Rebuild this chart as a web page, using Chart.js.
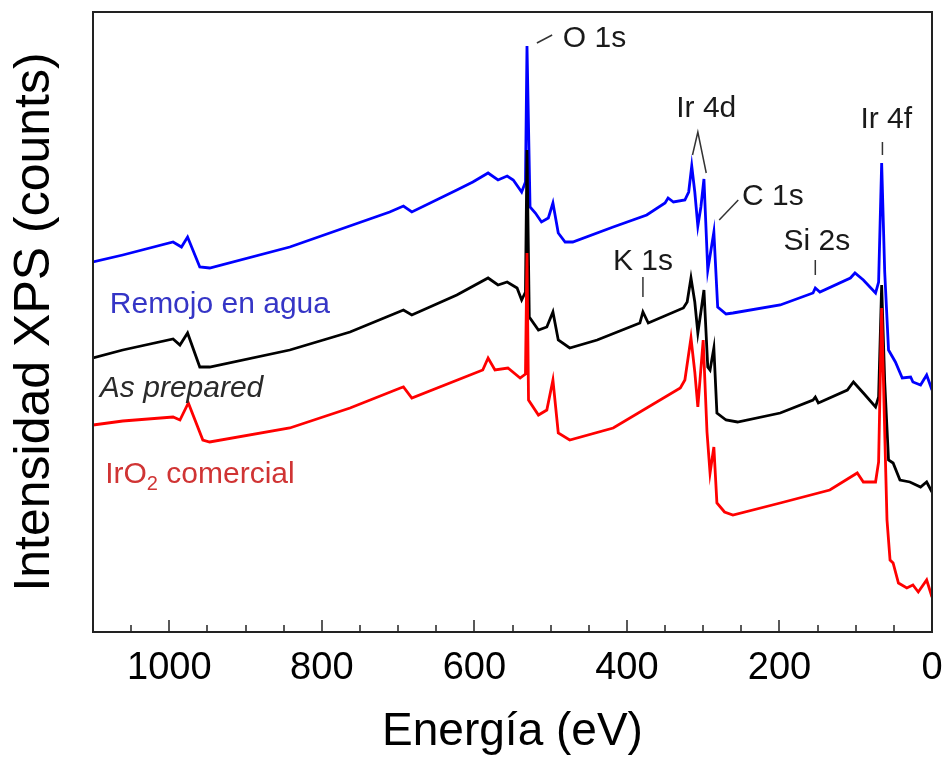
<!DOCTYPE html>
<html>
<head>
<meta charset="utf-8">
<script src="https://cdn.jsdelivr.net/npm/chart.js@4/dist/chart.umd.min.js"></script>
<style>
  body { margin: 0; background: #fff; }
  canvas { display: block; }
</style>
</head>
<body>
<canvas id="xpsChart" width="945" height="760"></canvas>
<script>
// binding energy (eV) / intensity (arb. counts) per sample
const aguaEnergy = [1100, 1061, 995, 984, 976, 960, 947, 842, 711, 693, 682, 623, 602, 582, 569, 557, 549, 538, 533, 531, 527, 520, 512, 503, 497, 490, 481, 471, 418, 374, 350, 346, 339, 324, 319, 315, 311, 307, 303, 299, 294, 286, 281, 270, 261, 199, 156, 153, 147, 107, 101, 90, 74, 70, 66, 62, 57, 48, 39, 28, 25, 15, 7, 0];
const aguaCounts = [370, 377, 390, 385, 395, 365, 364, 385, 420, 426, 420, 442, 450, 459, 452, 456, 452, 440, 450, 586, 425, 419, 410, 414, 429, 399, 390, 390, 405, 417, 429, 434, 430, 432, 440, 466, 440, 406, 425, 453, 362, 400, 325, 318, 319, 327, 339, 344, 340, 354, 359, 352, 339, 350, 469, 360, 282, 270, 254, 255, 250, 247, 257, 242];

const preparedEnergy = [1100, 1061, 995, 986, 976, 960, 947, 842, 763, 693, 682, 623, 582, 569, 557, 544, 538, 533, 531, 528, 516, 505, 497, 490, 475, 439, 383, 379, 372, 326, 321, 316, 311, 307, 303, 299, 294, 291, 286, 282, 270, 255, 199, 156, 153, 149, 111, 103, 90, 74, 70, 66, 62, 57, 51, 42, 29, 15, 7, 0];
const preparedCounts = [274, 282, 293, 287, 299, 265, 265, 282, 300, 322, 317, 337, 354, 347, 350, 344, 332, 340, 482, 315, 302, 305, 320, 292, 284, 292, 309, 320, 309, 324, 330, 354, 330, 299, 320, 342, 265, 262, 284, 219, 212, 210, 219, 232, 235, 229, 242, 250, 239, 225, 235, 347, 250, 172, 169, 152, 150, 145, 150, 140];

const comercialEnergy = [1100, 1061, 995, 986, 975, 956, 947, 842, 763, 697, 693, 682, 589, 582, 573, 556, 540, 533, 531, 529, 516, 505, 497, 490, 475, 418, 330, 324, 316, 311, 307, 300, 295, 291, 286, 282, 272, 261, 199, 134, 98, 90, 74, 70, 66, 62, 59, 55, 51, 44, 33, 25, 18, 7, 0];
const comercialCounts = [207, 211, 215, 212, 229, 192, 190, 204, 224, 244, 245, 234, 262, 274, 262, 264, 254, 258, 379, 232, 217, 222, 252, 199, 192, 204, 244, 252, 294, 260, 225, 292, 200, 159, 185, 129, 120, 117, 129, 142, 159, 150, 150, 170, 324, 200, 112, 72, 69, 49, 44, 47, 40, 52, 35];

const xTicks = [0, 200, 400, 600, 800, 1000];

// peak names with their leader marks, in (eV, counts)
const peakNames = [
  {text: 'O 1s',  align: 'left',   at: [484, 585], mark: [[518, 589], [498, 597]]},
  {text: 'Ir 4d', align: 'center', at: [296, 515], mark: [[314, 477], [307, 500], [296, 459]]},
  {text: 'Ir 4f', align: 'center', at: [60, 504],  mark: [[65, 490], [65, 477]]},
  {text: 'C 1s',  align: 'left',   at: [249, 427], mark: [[279, 412], [254, 432]]},
  {text: 'Si 2s', align: 'center', at: [151, 382], mark: [[153, 372], [153, 357]]},
  {text: 'K 1s',  align: 'center', at: [379, 362], mark: [[379, 355], [379, 335]]}
];

const FONT = '"Liberation Sans", Arial, Helvetica, sans-serif';

function toPoints(energy, counts) {
  return energy.map((e, i) => ({x: e, y: counts[i]}));
}

const axisFrame = {
  id: 'axisFrame',
  afterDatasetsDraw(chart) {
    const {ctx, chartArea: a, scales: {x}} = chart;
    ctx.save();
    ctx.strokeStyle = '#222';
    ctx.lineWidth = 2;
    ctx.strokeRect(a.left, a.top, a.right - a.left, a.bottom - a.top);
    // inward ticks, minor every 50 eV
    ctx.lineWidth = 1.5;
    for (let e = 0; e <= 1100; e += 50) {
      const px = Math.round(x.getPixelForValue(e));
      const len = e % 200 === 0 ? 12 : 7;
      ctx.beginPath();
      ctx.moveTo(px, a.bottom);
      ctx.lineTo(px, a.bottom - len);
      ctx.stroke();
    }
    ctx.restore();
  }
};

const spectrumLabels = {
  id: 'spectrumLabels',
  afterDraw(chart) {
    const {ctx, scales: {x, y}} = chart;
    ctx.save();
    ctx.textBaseline = 'alphabetic';

    ctx.font = '30px ' + FONT;
    ctx.fillStyle = '#1a1a1a';
    ctx.strokeStyle = '#333';
    ctx.lineWidth = 1.5;
    peakNames.forEach(p => {
      ctx.textAlign = p.align;
      ctx.fillText(p.text, x.getPixelForValue(p.at[0]), y.getPixelForValue(p.at[1]));
      ctx.beginPath();
      p.mark.forEach(([e, c], i) => {
        const px = x.getPixelForValue(e), py = y.getPixelForValue(c);
        if (i === 0) ctx.moveTo(px, py); else ctx.lineTo(px, py);
      });
      ctx.stroke();
    });

    // sample names
    ctx.textAlign = 'left';
    ctx.fillStyle = '#3535c6';
    ctx.fillText('Remojo en agua', x.getPixelForValue(1078), y.getPixelForValue(319));

    ctx.font = 'italic 30px ' + FONT;
    ctx.fillStyle = '#2a2a2a';
    ctx.fillText('As prepared', x.getPixelForValue(1091), y.getPixelForValue(235));

    ctx.font = '30px ' + FONT;
    ctx.fillStyle = '#d03434';
    let px = x.getPixelForValue(1084);
    const py = y.getPixelForValue(149);
    ctx.fillText('IrO', px, py);
    px += ctx.measureText('IrO').width;
    ctx.font = '20px ' + FONT;
    ctx.fillText('2', px, py + 7);
    px += ctx.measureText('2').width;
    ctx.font = '30px ' + FONT;
    ctx.fillText(' comercial', px, py);
    ctx.restore();
  }
};

new Chart(document.getElementById('xpsChart'), {
  type: 'line',
  data: {
    datasets: [
      {label: 'Remojo en agua', data: toPoints(aguaEnergy, aguaCounts), borderColor: '#0000ff', order: 3},
      {label: 'As prepared', data: toPoints(preparedEnergy, preparedCounts), borderColor: '#000000', order: 2},
      {label: 'IrO2 comercial', data: toPoints(comercialEnergy, comercialCounts), borderColor: '#ff0000', order: 1}
    ]
  },
  options: {
    responsive: false,
    animation: false,
    elements: {
      line: {borderWidth: 2.8, tension: 0, fill: false},
      point: {radius: 0}
    },
    layout: {padding: {top: 12, right: 13, left: 0, bottom: 0}},
    plugins: {legend: {display: false}, tooltip: {enabled: false}},
    scales: {
      x: {
        type: 'linear',
        reverse: true,
        min: 0,
        max: 1100,
        afterBuildTicks: scale => { scale.ticks = xTicks.map(v => ({value: v})); },
        afterFit: scale => { scale.height = 128; },
        grid: {display: false, drawTicks: false},
        border: {display: false},
        ticks: {color: '#000', padding: 14, maxRotation: 0, font: {family: FONT, size: 38}, callback: v => String(v)},
        title: {display: true, text: 'Energía (eV)', color: '#000', padding: {top: 0, bottom: 0}, font: {family: FONT, size: 46}}
      },
      y: {
        min: 0,
        max: 620,
        afterFit: scale => { scale.width = 93; },
        grid: {display: false, drawTicks: false},
        border: {display: false},
        ticks: {display: false},
        title: {display: true, text: 'Intensidad XPS (counts)', color: '#000', padding: {top: 5, bottom: 0}, font: {family: FONT, size: 50}}
      }
    }
  },
  plugins: [axisFrame, spectrumLabels]
});
</script>
</body>
</html>
